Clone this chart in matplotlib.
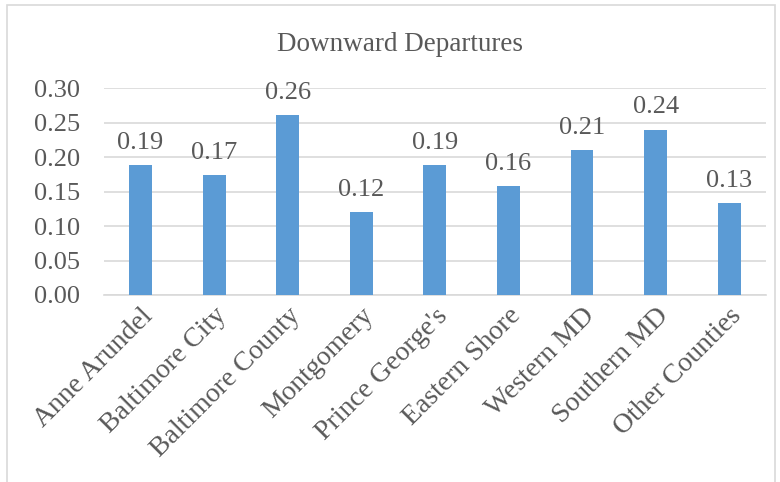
import matplotlib
matplotlib.use("Agg")
import matplotlib.pyplot as plt
from matplotlib.patches import Rectangle

# Regional downward departure rates
regions = ["Anne Arundel", "Baltimore City", "Baltimore County", "Montgomery",
           "Prince George's", "Eastern Shore", "Western MD", "Southern MD",
           "Other Counties"]
rates = [0.189, 0.174, 0.261, 0.120, 0.188, 0.158, 0.210, 0.240, 0.133]
yticks = [0.00, 0.05, 0.10, 0.15, 0.20, 0.25, 0.30]

plt.rcParams['font.family'] = ['Liberation Serif', 'DejaVu Serif']
text_c = '#595959'
grid_c = '#D9D9D9'

fig = plt.figure(figsize=(7.8, 4.82), dpi=100)
ax = fig.add_axes([0.133, 0.388, 0.849, 0.429])

x = list(range(len(regions)))
ax.bar(x, rates, width=0.31, color='#5B9BD5', zorder=3)
for xi, v in zip(x, rates):
    ax.annotate(f"{v:.2f}", (xi, v), xytext=(0, 8), textcoords='offset points',
                ha='center', va='bottom', fontsize=19, color=text_c)

ax.set_ylim(0, 0.30)
ax.set_xlim(-0.5, len(regions) - 0.5)
ax.set_yticks(yticks)
ax.set_yticklabels([f"{t:.2f}" for t in yticks], fontsize=19, color=text_c)
ax.set_xticks(x)
ax.set_xticklabels(regions, rotation=45, ha='right', rotation_mode='anchor',
                   fontsize=20, color=text_c)
ax.tick_params(axis='both', length=0)
ax.tick_params(axis='y', pad=17)
ax.tick_params(axis='x', pad=6)
ax.grid(axis='y', color=grid_c, linewidth=1.2, zorder=0)
for s in ['top', 'right', 'left']:
    ax.spines[s].set_visible(False)
ax.spines['bottom'].set_color(grid_c)
ax.spines['bottom'].set_linewidth(1.2)

fig.text(0.513, 0.908, "Downward Departures", ha='center', va='center',
         fontsize=19.5, color=text_c)

# chart area border
fig.patches.append(Rectangle((0.009, -0.05), 0.985, 1.04, transform=fig.transFigure,
                             fill=False, edgecolor='#D9D9D9', linewidth=1.2))

fig.savefig("out.png", dpi=100)
